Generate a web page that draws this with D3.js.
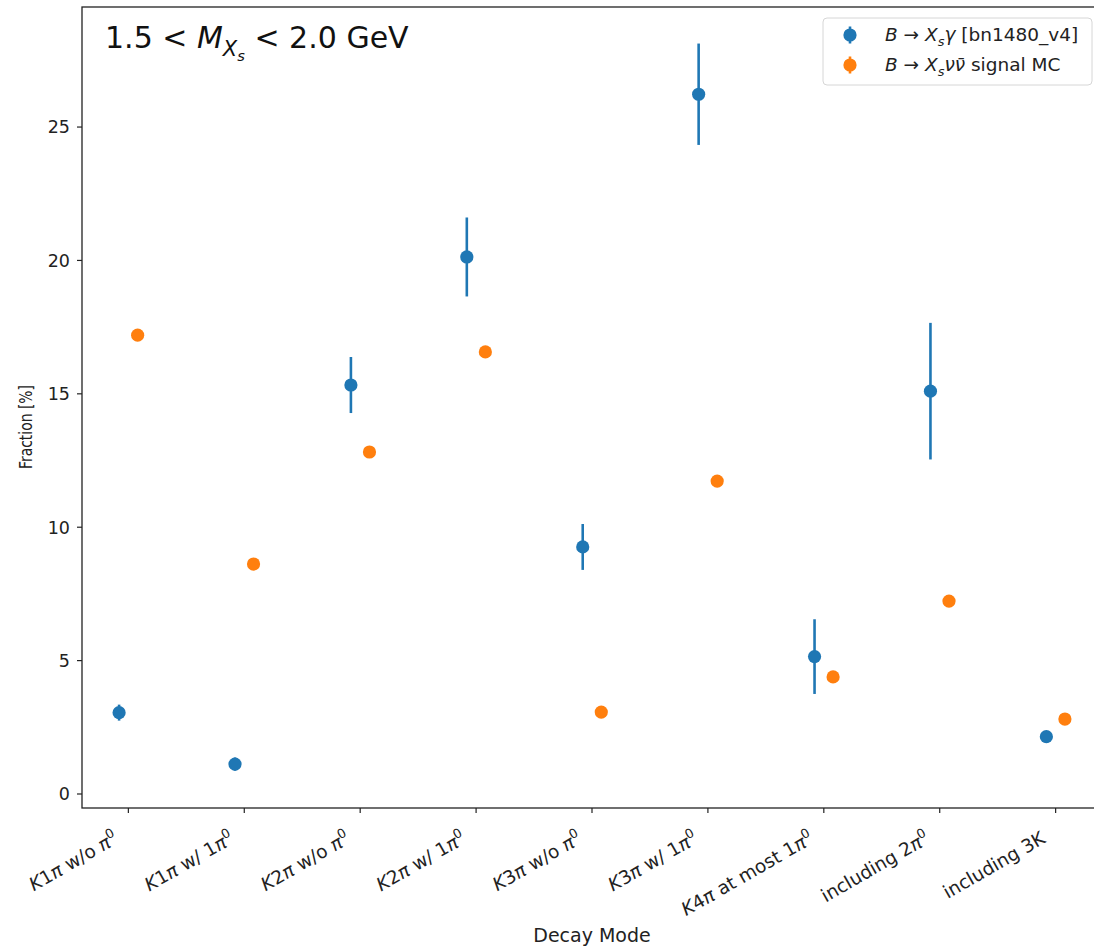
<!DOCTYPE html>
<html>
<head>
<meta charset="utf-8">
<script src="https://cdn.jsdelivr.net/npm/d3@7"></script>
<style>
  body { margin: 0; background: #fff; }
  text { font-family: "DejaVu Sans", sans-serif; white-space: pre; }
</style>
</head>
<body>
<svg id="chart"></svg>
<script>
const width = 1094;
const height = 949;

// decay modes ($...$ = mathtext)
const categories = [
  "$K1\\pi$ w/o $\\pi^0$",
  "$K1\\pi$ w/ $1\\pi^0$",
  "$K2\\pi$ w/o $\\pi^0$",
  "$K2\\pi$ w/ $1\\pi^0$",
  "$K3\\pi$ w/o $\\pi^0$",
  "$K3\\pi$ w/ $1\\pi^0$",
  "$K4\\pi$ at most $1\\pi^0$",
  "including $2\\pi^0$",
  "including 3K"
];
// B -> Xs gamma [bn1480_v4]
const xsgValues = [3.05, 1.12, 15.33, 20.13, 9.26, 26.23, 5.15, 15.1, 2.15];
const xsgErrors = [0.3, 0.25, 1.05, 1.48, 0.86, 1.9, 1.4, 2.56, 0.15];
// B -> Xs nu nubar signal MC
const xsnnValues = [17.2, 8.62, 12.82, 16.57, 3.07, 11.73, 4.39, 7.23, 2.81];
const xsnnErrors = [0, 0, 0, 0, 0, 0, 0, 0, 0];

const yTicks = [0, 5, 10, 15, 20, 25];
const seriesNames = ["$B \\to X_s\\gamma$ [bn1480_v4]", "$B \\to X_s\\nu\\bar{\\nu}$ signal MC"];
const colors = ["#1f77b4", "#ff7f0e"];

const svg = d3.select("#chart")
  .attr("width", width)
  .attr("height", height);

const x = d3.scaleLinear().domain([-0.4, 8.4]).range([82, 1102]);
const y = d3.scaleLinear().domain([-0.525, 29.5]).range([808, 7]);

// small mathtext renderer into a <text>
function addMath(textSel, str, fs) {
  let shift = 0;
  function put(s, italic, level, offset) {
    const size = fs * Math.pow(0.7, level);
    textSel.append("tspan")
      .text(s)
      .attr("font-size", size)
      .attr("font-style", italic ? "italic" : "normal")
      .attr("dy", offset - shift);
    shift = offset;
  }
  function readToken(src, i) {
    const c = src[i];
    if (c === "{") {
      let depth = 1, j = i + 1;
      while (j < src.length && depth > 0) {
        if (src[j] === "{") depth++;
        if (src[j] === "}") depth--;
        j++;
      }
      return [{ group: src.slice(i + 1, j - 1) }, j];
    }
    if (c === "\\") {
      let j = i + 1;
      while (j < src.length && /[a-zA-Z]/.test(src[j])) j++;
      const name = src.slice(i + 1, j);
      if (name === "bar") {
        const [arg, k] = readToken(src, j);
        return [{ bar: arg }, k];
      }
      return [{ cmd: name }, j];
    }
    return [{ ch: c }, i + 1];
  }
  const greek = { pi: "π", gamma: "γ", nu: "ν" };
  function atom(tok, level, offset) {
    if (tok.group !== undefined) { math(tok.group, level, offset); return; }
    if (tok.bar) {
      let inner = tok.bar.ch;
      if (tok.bar.cmd) inner = greek[tok.bar.cmd];
      if (tok.bar.group !== undefined) inner = greek[tok.bar.group.replace("\\", "")] || tok.bar.group;
      put(inner + "\u0304", true, level, offset);
      return;
    }
    if (tok.cmd) {
      if (tok.cmd === "to") put(" → ", false, level, offset);
      else put(greek[tok.cmd] || tok.cmd, true, level, offset);
      return;
    }
    const c = tok.ch;
    if (c === "<") put(" < ", false, level, offset);
    else if (/[a-zA-Z]/.test(c)) put(c, true, level, offset);
    else put(c, false, level, offset);
  }
  function math(src, level, offset) {
    let i = 0;
    while (i < src.length) {
      const c = src[i];
      if (c === " ") { i++; continue; }
      if (c === "^" || c === "_") {
        const [tok, ni] = readToken(src, i + 1);
        i = ni;
        const sz = fs * Math.pow(0.7, level);
        const off = c === "^" ? offset - 0.42 * sz : offset + 0.25 * sz;
        atom(tok, level + 1, off);
        continue;
      }
      const [tok, ni] = readToken(src, i);
      i = ni;
      atom(tok, level, offset);
    }
  }
  str.split("$").forEach((part, k) => {
    if (part === "") return;
    if (k % 2 === 1) math(part, 0, 0);
    else put(part, false, 0, 0);
  });
}

// clip so markers stay in the axes
svg.append("defs").append("clipPath").attr("id", "clip")
  .append("rect").attr("x", 82).attr("y", 7).attr("width", 1020).attr("height", 801);

// y axis
const yAxis = svg.append("g");
yAxis.selectAll("line")
  .data(yTicks)
  .enter()
  .append("line")
  .attr("x1", 77).attr("x2", 82)
  .attr("y1", d => y(d)).attr("y2", d => y(d))
  .attr("stroke", "#222").attr("stroke-width", 1.2);
yAxis.selectAll("text")
  .data(yTicks)
  .enter()
  .append("text")
  .attr("x", 70)
  .attr("y", d => y(d))
  .attr("dy", "0.36em")
  .attr("text-anchor", "end")
  .attr("font-size", 17.5)
  .attr("fill", "#222")
  .text(d => d);

// x axis
const xAxis = svg.append("g");
xAxis.selectAll("line")
  .data(categories)
  .enter()
  .append("line")
  .attr("x1", (d, i) => x(i)).attr("x2", (d, i) => x(i))
  .attr("y1", 808).attr("y2", 813)
  .attr("stroke", "#222").attr("stroke-width", 1.2);
categories.forEach((label, i) => {
  const t = xAxis.append("text")
    .attr("transform", `translate(${x(i) - 9},842) rotate(-30)`)
    .attr("text-anchor", "end")
    .attr("font-size", 18.5)
    .attr("fill", "#222");
  addMath(t, label, 18.5);
});

// spines
svg.append("rect")
  .attr("x", 82).attr("y", 7)
  .attr("width", 1020).attr("height", 801)
  .attr("fill", "none")
  .attr("stroke", "#222")
  .attr("stroke-width", 1.3);

// axis labels
svg.append("text")
  .attr("x", x(4)).attr("y", 942)
  .attr("text-anchor", "middle")
  .attr("font-size", 19)
  .attr("fill", "#222")
  .text("Decay Mode");
svg.append("text")
  .attr("transform", "translate(32,427) rotate(-90)")
  .attr("text-anchor", "middle")
  .attr("font-size", 18)
  .attr("textLength", 84)
  .attr("lengthAdjust", "spacingAndGlyphs")
  .attr("fill", "#222")
  .text("Fraction [%]");

// error bars + points
const series = [
  { values: xsgValues, errors: xsgErrors, dx: -0.08, color: colors[0] },
  { values: xsnnValues, errors: xsnnErrors, dx: 0.08, color: colors[1] }
];
const plot = svg.append("g").attr("clip-path", "url(#clip)");
series.forEach(s => {
  const g = plot.append("g");
  g.selectAll("line")
    .data(s.values)
    .enter()
    .append("line")
    .attr("x1", (d, i) => x(i + s.dx))
    .attr("x2", (d, i) => x(i + s.dx))
    .attr("y1", (d, i) => y(d - s.errors[i]))
    .attr("y2", (d, i) => y(d + s.errors[i]))
    .attr("stroke", s.color)
    .attr("stroke-width", 2.6);
  g.selectAll("circle")
    .data(s.values)
    .enter()
    .append("circle")
    .attr("cx", (d, i) => x(i + s.dx))
    .attr("cy", d => y(d))
    .attr("r", 6.6)
    .attr("fill", s.color);
});

// title
const title = svg.append("text")
  .attr("x", 105).attr("y", 48)
  .attr("font-size", 30)
  .attr("fill", "#111");
addMath(title, "$1.5 < M_{X_s} < 2.0$ GeV", 30);

// legend
const legend = svg.append("g");
legend.append("rect")
  .attr("x", 823).attr("y", 18)
  .attr("width", 269).attr("height", 67)
  .attr("rx", 4)
  .attr("fill", "white").attr("fill-opacity", 0.8)
  .attr("stroke", "#d6d6d6");
seriesNames.forEach((name, i) => {
  const cy = 35 + i * 30;
  legend.append("line")
    .attr("x1", 850).attr("x2", 850)
    .attr("y1", cy - 8.5).attr("y2", cy + 8.5)
    .attr("stroke", colors[i]).attr("stroke-width", 2.6);
  legend.append("circle")
    .attr("cx", 850).attr("cy", cy).attr("r", 6.6)
    .attr("fill", colors[i]);
  const t = legend.append("text")
    .attr("x", 885).attr("y", cy + 6)
    .attr("font-size", 18.5)
    .attr("fill", "#222");
  addMath(t, name, 18.5);
});
</script>
</body>
</html>
